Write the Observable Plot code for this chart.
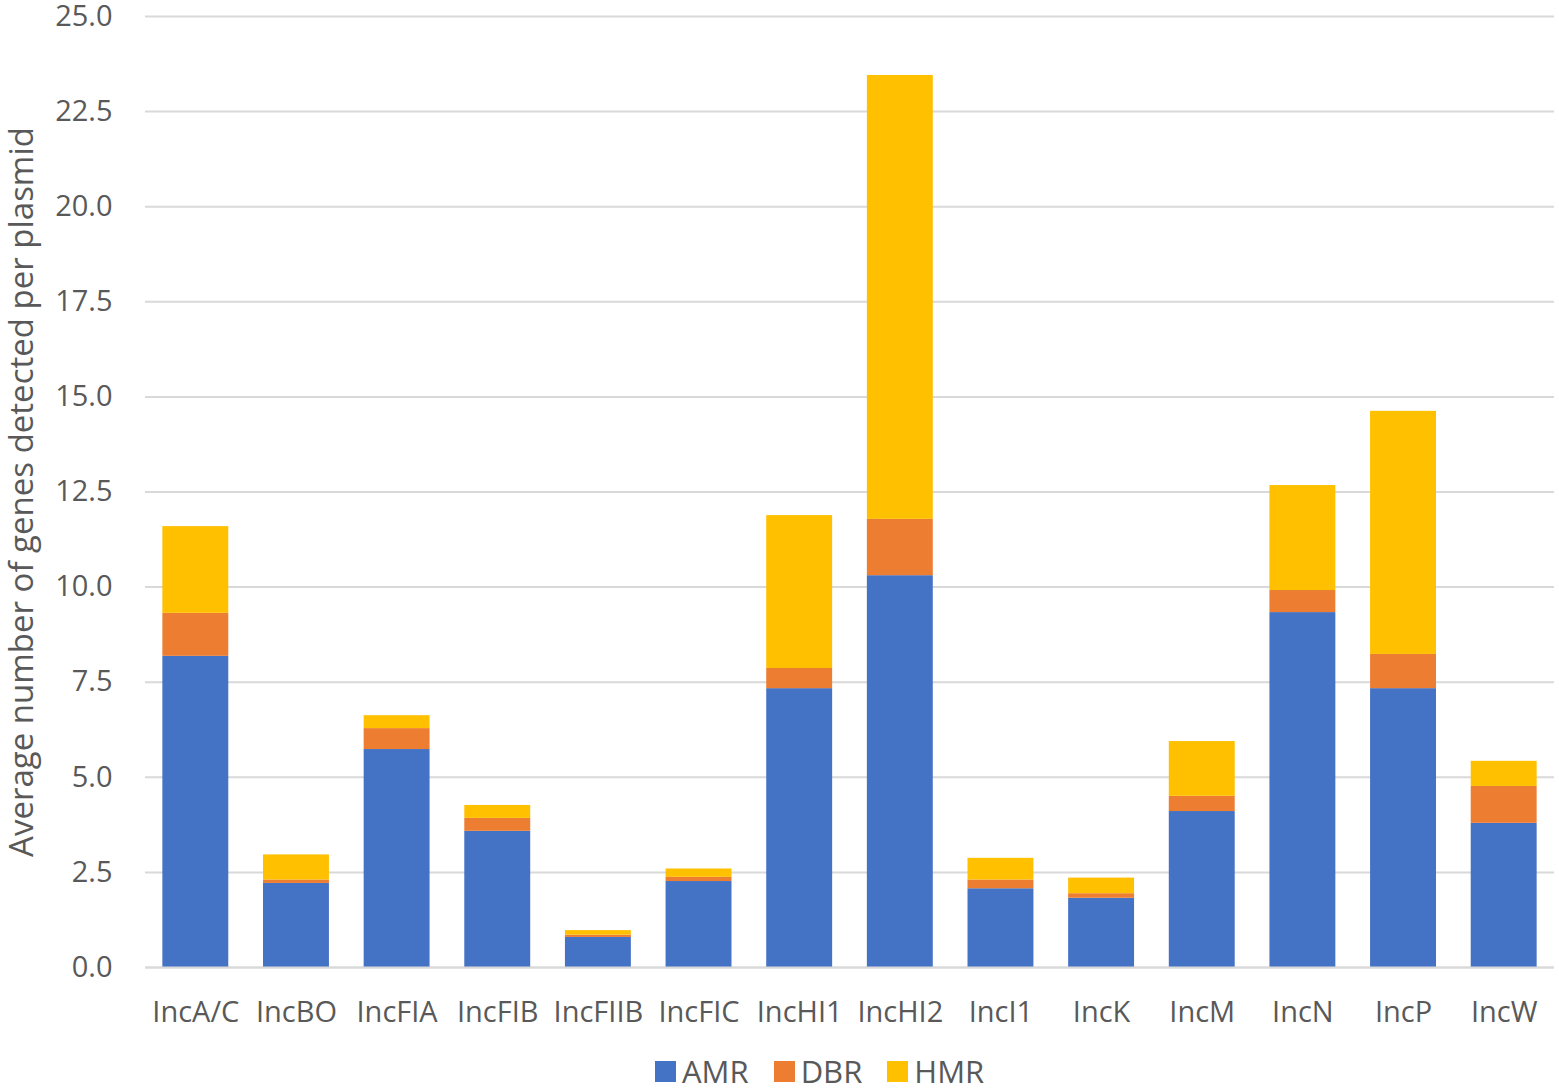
<!DOCTYPE html>
<html>
<head>
<meta charset="utf-8">
<script src="https://cdn.jsdelivr.net/npm/d3@7"></script>
<script src="https://cdn.jsdelivr.net/npm/@observablehq/plot@0.6"></script>
<style>
  html, body { margin: 0; padding: 0; background: #fff; }
  body { width: 1559px; height: 1089px; position: relative; overflow: hidden; font-family: "Open Sans", sans-serif; }
  #chart { position: absolute; left: 0; top: -10px; }
  #legend { position: absolute; top: 1055px; left: 655px; display: flex; align-items: center; font-size: 31px; color: #595959; line-height: 33px; height: 33px; }
  .item { display: flex; align-items: center; margin-right: 25px; }
  .sw { width: 21px; height: 21px; margin-right: 6px; }
</style>
</head>
<body>
<div id="chart"></div>
<div id="legend"></div>
<script>
const categories = ["IncA/C","IncBO","IncFIA","IncFIB","IncFIIB","IncFIC","IncHI1","IncHI2","IncI1","IncK","IncM","IncN","IncP","IncW"];
const seriesNames = ["AMR","DBR","HMR"];
const seriesColors = ["#4472C4","#ED7D31","#FFC000"];
const AMR = [8.18, 2.21, 5.73, 3.58, 0.79, 2.26, 7.33, 10.30, 2.07, 1.82, 4.10, 9.33, 7.33, 3.79];
const DBR = [1.13, 0.09, 0.55, 0.34, 0.06, 0.11, 0.53, 1.48, 0.23, 0.12, 0.40, 0.58, 0.90, 0.97];
const HMR = [2.28, 0.66, 0.34, 0.34, 0.12, 0.22, 4.02, 11.67, 0.57, 0.41, 1.44, 2.76, 6.39, 0.66];
const yTicks = [0, 2.5, 5, 7.5, 10, 12.5, 15, 17.5, 20, 22.5, 25];

const seriesValues = {AMR, DBR, HMR};
const data = [];
seriesNames.forEach(s => categories.forEach((c, i) => data.push({category: c, series: s, value: seriesValues[s][i]})));

const chart = Plot.plot({
  width: 1559,
  height: 1055,
  marginLeft: 145,
  marginRight: 5,
  marginTop: 26,
  marginBottom: 78,
  style: {fontFamily: "'Open Sans', sans-serif", fontSize: "29px", color: "#595959", background: "transparent", overflow: "visible"},
  x: {domain: categories, paddingInner: 0.345, paddingOuter: 0.1725, round: false, label: null, tickSize: 0, tickPadding: 34},
  y: {domain: [0, 25], ticks: yTicks, tickFormat: d3.format(".1f"), tickSize: 0, tickPadding: 33, label: null},
  color: {domain: seriesNames, range: seriesColors},
  marks: [
    Plot.gridY(yTicks, {stroke: "#d9d9d9", strokeOpacity: 1, strokeWidth: 2}),
    Plot.barY(data, {x: "category", y: "value", fill: "series", order: seriesNames}),
    Plot.ruleY([0], {stroke: "#d9d9d9", strokeWidth: 2}),
    Plot.text(["Average number of genes detected per plasmid"], {
      frameAnchor: "left", dx: -123, rotate: -90, fontSize: 33, fill: "#595959", textAnchor: "middle"
    })
  ]
});
document.getElementById("chart").appendChild(chart);
chart.querySelectorAll("text").forEach(t => t.setAttribute("fill", "#595959"));

const legend = document.getElementById("legend");
seriesNames.forEach((s, i) => {
  const it = document.createElement("div"); it.className = "item";
  const sw = document.createElement("div"); sw.className = "sw"; sw.style.background = seriesColors[i];
  const tx = document.createElement("span"); tx.textContent = s;
  it.appendChild(sw); it.appendChild(tx); legend.appendChild(it);
});
</script>
</body>
</html>
